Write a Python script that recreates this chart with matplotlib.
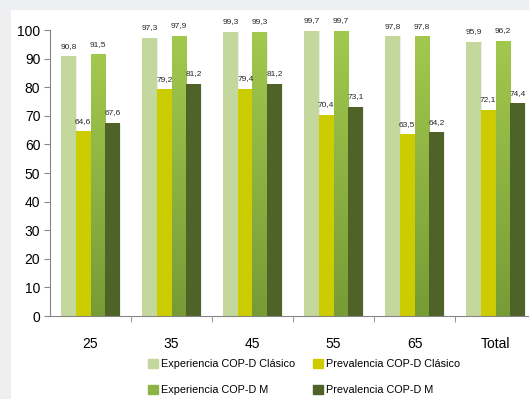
import matplotlib
matplotlib.use("Agg")
import matplotlib.pyplot as plt
import matplotlib.patches as mpatches
import numpy as np

plt.rcParams['font.family'] = ['Liberation Sans', 'DejaVu Sans']

# age groups and series (percent)
groups = ['25', '35', '45', '55', '65', 'Total']
series_names = ['Experiencia COP-D Clásico', 'Prevalencia COP-D Clásico',
                'Experiencia COP-D M', 'Prevalencia COP-D M']
exp_clasico = [90.8, 97.3, 99.3, 99.7, 97.8, 95.9]
prev_clasico = [64.6, 79.2, 79.4, 70.4, 63.5, 72.1]
exp_m = [91.5, 97.9, 99.3, 99.7, 97.8, 96.2]
prev_m = [67.6, 81.2, 81.2, 73.1, 64.2, 74.4]
colors = ['#c4d89e', '#cccc00', '#8db446', '#4f6228']

fig = plt.figure(figsize=(5.29, 3.99), dpi=100, facecolor='#eeeff1')
# white panel behind the chart
fig.patches.append(mpatches.Rectangle((11 / 529, 0), 1, 1 - 10 / 399,
                                      transform=fig.transFigure,
                                      facecolor='white', edgecolor='none', zorder=-5))

ax = fig.add_axes([50 / 529, 83 / 399, 479 / 529, 286 / 399])
ax.set_facecolor('none')

x = np.arange(len(groups))
w = 0.18
all_vals = [exp_clasico, prev_clasico, exp_m, prev_m]
handles = []
for k, (vals, col, name) in enumerate(zip(all_vals, colors, series_names)):
    pos = x + (k - 1.5) * w
    # soft drop shadow
    ax.bar(pos + 0.015, vals, w, color='#000000', alpha=0.07, zorder=1)
    bars = ax.bar(pos, vals, w, color=col, zorder=2)
    handles.append(mpatches.Patch(color=col, label=name))
    if k == 2:
        # vertical gradient on the M experience bars
        grad = np.linspace(0, 1, 100).reshape(-1, 1)
        cmap = matplotlib.colors.LinearSegmentedColormap.from_list(
            'g', ['#779c36', '#a2c84e'])
        for b in bars:
            b.set_facecolor('none')
            im = ax.imshow(grad, cmap=cmap, origin='lower', aspect='auto',
                           extent=[b.get_x(), b.get_x() + b.get_width(), 0, b.get_height()],
                           zorder=2)
            im.set_clip_path(b)
    for p, v in zip(pos, vals):
        ax.text(p, v + 2.3, f'{v:.1f}'.replace('.', ','), ha='center', va='bottom',
                fontsize=6, color='#262626', zorder=3)

ax.set_xlim(-0.5, (529 - 50) / 81 - 0.5)
ax.set_ylim(0, 100)
ax.set_yticks(range(0, 101, 10))
ax.tick_params(axis='y', labelsize=10, length=4, color='#868686', pad=3)
ax.set_xticks(x)
ax.set_xticklabels(groups)
ax.tick_params(axis='x', labelsize=10, length=0, pad=15)
ax.set_xticks(np.arange(0.5, 5, 1), minor=True)
ax.tick_params(axis='x', which='minor', length=4, color='#868686')
for s in ['top', 'right']:
    ax.spines[s].set_visible(False)
for s in ['left', 'bottom']:
    ax.spines[s].set_color('#868686')

order = [handles[0], handles[2], handles[1], handles[3]]
fig.legend(order, [series_names[i] for i in (0, 2, 1, 3)], ncol=2,
           loc='upper left', bbox_to_anchor=(138 / 529, 1 - 349 / 399),
           frameon=False, fontsize=7.8, handlelength=0.9, handleheight=0.9,
           handletextpad=0.35, columnspacing=1.6, labelspacing=1.45)

fig.savefig('out.png', dpi=100, facecolor=fig.get_facecolor())
